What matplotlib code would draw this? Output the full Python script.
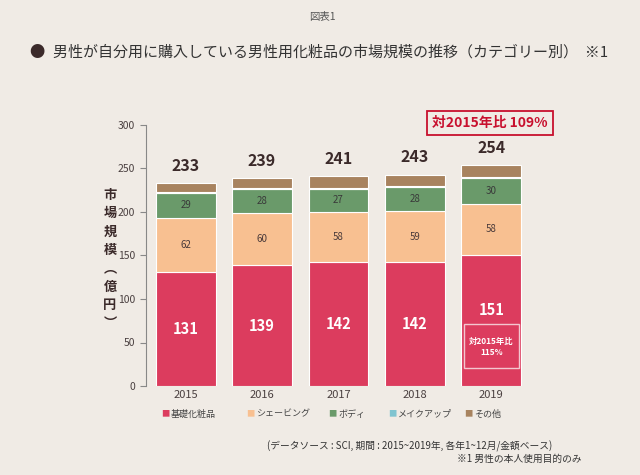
import matplotlib.pyplot as plt
from matplotlib.patches import Rectangle
import numpy as np

plt.rcParams['font.family'] = ['Noto Sans CJK JP', 'DejaVu Sans']

years = ['2015', '2016', '2017', '2018', '2019']
categories = ['基礎化粧品', 'シェービング', 'ボディ', 'メイクアップ', 'その他']
skincare = [131, 139, 142, 142, 151]
shaving = [62, 60, 58, 59, 58]
body = [29, 28, 27, 28, 30]
makeup = [1, 1, 1, 1, 1]
other = [10, 11, 13, 13, 14]
totals = [233, 239, 241, 243, 254]

series = [skincare, shaving, body, makeup, other]
colors = ['#dc3c5e', '#f8c091', '#6a9a6a', '#80c4d0', '#a8835f']
bg = '#f0ebe5'
dark = '#3b2a2a'

fig = plt.figure(figsize=(6.4, 4.75), dpi=100, facecolor=bg)
ax = fig.add_axes([146 / 640, 1 - 386 / 475, 385 / 640, (386 - 125) / 475])
ax.set_facecolor(bg)

x = np.arange(len(years))
bottom = np.zeros(len(years))
for vals, col in zip(series, colors):
    ax.bar(x, vals, bottom=bottom, width=0.78, color=col, edgecolor='white', linewidth=0.8)
    bottom += np.array(vals)

# segment labels
for i in range(len(years)):
    if i == 4:
        ax.text(x[i], 87, str(skincare[i]), ha='center', va='center', color='white',
                fontsize=10.5, fontweight='bold')
        ax.add_patch(Rectangle((x[i] - 0.36, 21), 0.72, 50, facecolor='none',
                               edgecolor='#f3c6cf', linewidth=1))
        ax.text(x[i], 45, '対2015年比\n115%', ha='center', va='center', color='white',
                fontsize=6, fontweight='bold', linespacing=1.3)
    else:
        ax.text(x[i], skincare[i] / 2, str(skincare[i]), ha='center', va='center',
                color='white', fontsize=10.5, fontweight='bold')
    ax.text(x[i], skincare[i] + shaving[i] / 2, str(shaving[i]), ha='center', va='center',
            color='#4a3a3a', fontsize=7)
    ax.text(x[i], skincare[i] + shaving[i] + body[i] / 2, str(body[i]), ha='center',
            va='center', color='#3a3a3a', fontsize=7)
    ax.text(x[i], totals[i] + 20, str(totals[i]), ha='center', va='center', color=dark,
            fontsize=11.5, fontweight='bold')

ax.set_xlim(-0.52, 4.52)
ax.set_ylim(0, 300)
ax.set_yticks(range(0, 301, 50))
ax.set_xticks(x)
ax.set_xticklabels(years)
ax.tick_params(axis='y', length=4, width=0.8, color='#888888', labelsize=7.5,
               labelcolor='#4a4040', pad=4)
ax.tick_params(axis='x', length=0, labelsize=8, labelcolor='#4a4040', pad=3)
for s in ['top', 'right', 'bottom']:
    ax.spines[s].set_visible(False)
ax.spines['left'].set_color('#888888')
ax.spines['left'].set_linewidth(0.8)

# vertical y label
fig.text(110 / 640, 1 - 259 / 475, '市\n場\n規\n模\n︵\n億\n円\n︶', ha='center', va='center',
         fontsize=9.5, fontweight='bold', color=dark, linespacing=1.4)

# annotation box
fig.text(490 / 640, 1 - 123 / 475, '対2015年比 109%', ha='center', va='center',
         color='#c8102e', fontsize=10, fontweight='bold',
         bbox=dict(boxstyle='square,pad=0.35', facecolor=bg, edgecolor='#c8102e', linewidth=1.3))

# titles
fig.text(322 / 640, 1 - 17 / 475, '図表1', ha='center', va='center', fontsize=7.5, color='#555555')
fig.text(37 / 640, 1 - 52 / 475, '●', ha='center', va='center', fontsize=11, color='#3b2a2a')
fig.text(53 / 640, 1 - 52 / 475, '男性が自分用に購入している男性用化粧品の市場規模の推移（カテゴリー別）  ※1',
         ha='left', va='center', fontsize=10.8, color='#333333')

# legend
leg_x = [165, 250, 332, 392, 468]
for lx, lab, col in zip(leg_x, categories, colors):
    fig.text(lx / 640, 1 - 414 / 475, '■', ha='center', va='center', fontsize=6, color=col)
    fig.text((lx + 6) / 640, 1 - 414 / 475, lab, ha='left', va='center', fontsize=6.5,
             color='#444444')

# footnotes
fig.text(552 / 640, 1 - 446 / 475, '(データソース : SCI, 期間 : 2015~2019年, 各年1~12月/金額ベース)',
         ha='right', va='center', fontsize=7, color='#333333')
fig.text(582 / 640, 1 - 459 / 475, '※1 男性の本人使用目的のみ', ha='right', va='center',
         fontsize=7, color='#333333')

fig.savefig('out.png', dpi=100, facecolor=bg)
